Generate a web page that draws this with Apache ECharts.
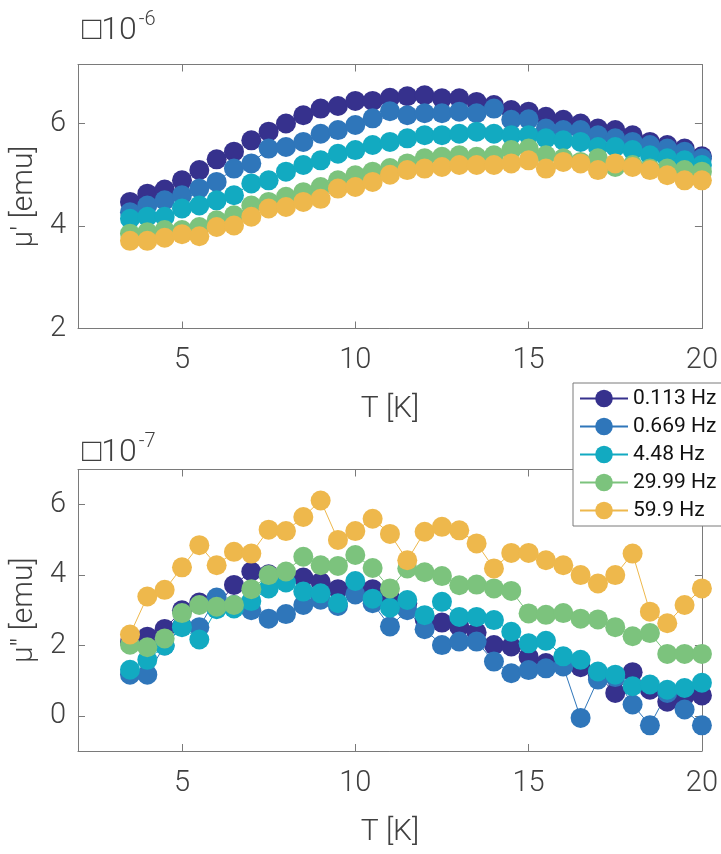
<!DOCTYPE html>
<html>
<head>
<meta charset="utf-8">
<script src="https://cdn.jsdelivr.net/npm/echarts@6/dist/echarts.min.js"></script>
<style>
  html, body { margin: 0; padding: 0; background: #ffffff; }
  #chart { width: 721px; height: 854px; }
</style>
</head>
<body>
<div id="chart"></div>
<script>
// Temperature sweep [K]
const temperatures = [3.5, 4, 4.5, 5, 5.5, 6, 6.5, 7, 7.5, 8, 8.5, 9, 9.5, 10, 10.5, 11, 11.5,
  12, 12.5, 13, 13.5, 14, 14.5, 15, 15.5, 16, 16.5, 17, 17.5, 18, 18.5, 19, 19.5, 20];

// Drive frequencies
const frequencies = ['0.113 Hz', '0.669 Hz', '4.48 Hz', '29.99 Hz', '59.9 Hz'];

// In-phase component mu' (units of 1e-6 emu)
const realF0113 = [4.47, 4.63, 4.71, 4.89, 5.09, 5.30, 5.45, 5.67, 5.84, 6.00, 6.16, 6.29, 6.34, 6.44, 6.44, 6.50, 6.53,
  6.55, 6.49, 6.49, 6.42, 6.36, 6.26, 6.23, 6.13, 6.07, 6.00, 5.90, 5.87, 5.77, 5.64, 5.58, 5.51, 5.36];
const realF0669 = [4.27, 4.40, 4.50, 4.60, 4.73, 4.86, 5.12, 5.22, 5.51, 5.54, 5.64, 5.80, 5.87, 5.97, 6.10, 6.24, 6.16,
  6.20, 6.20, 6.23, 6.20, 6.29, 6.07, 6.08, 5.90, 5.87, 5.87, 5.77, 5.71, 5.64, 5.58, 5.51, 5.45, 5.32];
const realF448 = [4.14, 4.18, 4.18, 4.34, 4.40, 4.50, 4.60, 4.83, 4.89, 5.06, 5.19, 5.28, 5.41, 5.48, 5.58, 5.64, 5.71,
  5.77, 5.77, 5.80, 5.84, 5.80, 5.77, 5.77, 5.71, 5.67, 5.64, 5.54, 5.54, 5.48, 5.38, 5.32, 5.28, 5.19];
const realF2999 = [3.85, 3.88, 3.92, 3.92, 3.98, 4.11, 4.21, 4.40, 4.47, 4.57, 4.66, 4.76, 4.89, 4.99, 5.06, 5.13, 5.22,
  5.32, 5.35, 5.38, 5.35, 5.38, 5.48, 5.51, 5.38, 5.32, 5.25, 5.32, 5.15, 5.19, 5.12, 5.12, 5.09, 5.06];
const realF599 = [3.71, 3.71, 3.77, 3.84, 3.80, 3.98, 4.01, 4.18, 4.34, 4.37, 4.47, 4.53, 4.73, 4.76, 4.86, 5.00, 5.09,
  5.12, 5.15, 5.19, 5.19, 5.19, 5.22, 5.28, 5.12, 5.25, 5.22, 5.09, 5.22, 5.15, 5.09, 4.99, 4.89, 4.89];

// Out-of-phase component mu'' (units of 1e-7 emu)
const imagF0113 = [2.10, 2.25, 2.47, 3.00, 3.22, 3.10, 3.72, 4.10, 4.02, 3.90, 3.93, 3.80, 3.60, 3.70, 3.60, 3.35, 3.20,
  2.75, 2.65, 2.53, 2.37, 2.01, 1.97, 1.68, 1.50, 1.45, 1.38, 1.15, 0.65, 1.24, 0.74, 0.40, 0.56, 0.58];
const imagF0669 = [1.17, 1.17, 2.00, 2.55, 2.52, 3.36, 3.15, 3.00, 2.76, 2.89, 3.15, 3.30, 3.12, 3.45, 3.20, 2.54, 3.00,
  2.46, 2.01, 2.11, 2.11, 1.54, 1.21, 1.30, 1.35, 1.40, -0.06, 1.03, 1.10, 0.32, -0.27, 0.65, 0.18, -0.27];
const imagF448 = [1.31, 1.59, 2.00, 2.52, 2.17, 3.03, 3.05, 3.26, 3.62, 3.79, 3.53, 3.48, 3.20, 3.83, 3.33, 3.07, 3.29,
  2.86, 3.24, 2.81, 2.81, 2.72, 2.39, 2.06, 2.13, 1.69, 1.59, 1.26, 1.17, 0.84, 0.89, 0.74, 0.79, 0.94];
const imagF2999 = [2.02, 1.95, 2.20, 2.92, 3.15, 3.10, 3.15, 3.60, 4.00, 4.10, 4.52, 4.28, 4.26, 4.57, 4.20, 3.62, 4.19,
  4.08, 3.97, 3.71, 3.73, 3.62, 3.55, 2.91, 2.87, 2.92, 2.76, 2.74, 2.52, 2.26, 2.35, 1.76, 1.76, 1.76];
const imagF599 = [2.31, 3.39, 3.58, 4.22, 4.85, 4.28, 4.66, 4.61, 5.29, 5.25, 5.65, 6.12, 5.00, 5.25, 5.60, 5.17, 4.42,
  5.23, 5.37, 5.27, 4.90, 4.19, 4.63, 4.63, 4.42, 4.28, 4.00, 3.76, 4.00, 4.61, 2.96, 2.63, 3.15, 3.62];

// Tick positions
const temperatureTicks = [5, 10, 15, 20];
const realTicks = [2, 4, 6];
const imagTicks = [0, 2, 4, 6];

const realSets = [realF0113, realF0669, realF448, realF2999, realF599];
const imagSets = [imagF0113, imagF0669, imagF448, imagF2999, imagF599];

const palette = ['#36318d', '#2f76ba', '#12aac1', '#7cc37d', '#eeb84c'];
const FONT = "'Liberation Sans Narrow', 'Roboto', sans-serif";
const LINE_GRAY = '#7a7a7a';
const TEXT_GRAY = '#404040';

function xAxes(gridIndex) {
  return [
    {
      gridIndex, type: 'value', min: 2, max: 20, position: 'bottom',
      name: 'T [K]', nameLocation: 'middle', nameGap: 66,
      nameTextStyle: { fontSize: 30, color: TEXT_GRAY, fontFamily: FONT, fontWeight: 300 },
      axisLine: { onZero: false, lineStyle: { color: LINE_GRAY, width: 1 } },
      axisTick: { inside: true, length: 7, customValues: temperatureTicks, lineStyle: { color: LINE_GRAY } },
      axisLabel: { customValues: temperatureTicks, fontSize: 29, color: TEXT_GRAY, fontFamily: FONT, fontWeight: 300, margin: 18 },
      splitLine: { show: false }
    },
    {
      gridIndex, type: 'value', min: 2, max: 20, position: 'top',
      axisLine: { onZero: false, lineStyle: { color: LINE_GRAY, width: 1 } },
      axisTick: { inside: true, length: 7, customValues: temperatureTicks, lineStyle: { color: LINE_GRAY } },
      axisLabel: { show: false },
      splitLine: { show: false }
    }
  ];
}

function yAxes(gridIndex, min, max, ticks, title) {
  return [
    {
      gridIndex, type: 'value', min, max, position: 'left',
      name: title, nameLocation: 'middle', nameGap: 17,
      nameTextStyle: { fontSize: 30, color: TEXT_GRAY, fontFamily: FONT, fontWeight: 300 },
      axisLine: { show: true, onZero: false, lineStyle: { color: LINE_GRAY, width: 1 } },
      axisTick: { show: true, inside: true, length: 7, customValues: ticks, lineStyle: { color: LINE_GRAY } },
      axisLabel: { customValues: ticks, fontSize: 29, color: TEXT_GRAY, fontFamily: FONT, fontWeight: 300, margin: 12 },
      splitLine: { show: false }
    },
    {
      gridIndex, type: 'value', min, max, position: 'right',
      axisLine: { show: true, onZero: false, lineStyle: { color: LINE_GRAY, width: 1 } },
      axisTick: { show: true, inside: true, length: 7, customValues: ticks, lineStyle: { color: LINE_GRAY } },
      axisLabel: { show: false },
      splitLine: { show: false }
    }
  ];
}

function makeSeries(sets, axisIndex) {
  return sets.map((values, k) => ({
    type: 'line',
    name: frequencies[k],
    xAxisIndex: axisIndex,
    yAxisIndex: axisIndex,
    data: temperatures.map((t, i) => [t, values[i]]),
    symbol: 'circle',
    symbolSize: 20,
    showAllSymbol: true,
    itemStyle: { color: palette[k] },
    lineStyle: { color: palette[k], width: 1 },
    emphasis: { disabled: true },
    clip: false
  }));
}

const chart = echarts.init(document.getElementById('chart'), null, { renderer: 'canvas' });

const exponentRich = {
  s: { fontSize: 20, fontFamily: FONT, fontWeight: 300, fill: TEXT_GRAY, verticalAlign: 'top', padding: [0, 0, 21, 2] }
};

chart.setOption({
  animation: false,
  backgroundColor: '#ffffff',
  textStyle: { fontFamily: FONT },
  grid: [
    { left: 78, top: 64.5, width: 624, height: 264 },
    { left: 78, top: 469.5, width: 624, height: 281.5 }
  ],
  xAxis: [...xAxes(0), ...xAxes(1)],
  yAxis: [
    ...yAxes(0, 2, 7.15, realTicks, "\u03bc' [emu]"),
    ...yAxes(1, -1, 7, imagTicks, "\u03bc'' [emu]")
  ],
  legend: {
    orient: 'vertical',
    left: 573,
    top: 383,
    itemWidth: 48,
    itemHeight: 22,
    itemGap: 7,
    padding: [5, 60, 5, 6],
    backgroundColor: '#ffffff',
    borderColor: LINE_GRAY,
    borderWidth: 1,
    textStyle: { fontSize: 21, color: '#111111', fontFamily: FONT, fontWeight: 400 },
    data: frequencies,
    selectedMode: false
  },
  graphic: [
    {
      type: 'text', left: 82, top: 10,
      style: {
        text: '\u25a110{s|-6}',
        font: "300 32px " + FONT,
        fill: TEXT_GRAY,
        rich: exponentRich
      }
    },
    {
      type: 'text', left: 82, top: 432,
      style: {
        text: '\u25a110{s|-7}',
        font: "300 32px " + FONT,
        fill: TEXT_GRAY,
        rich: exponentRich
      }
    }
  ],
  series: [...makeSeries(realSets, 0), ...makeSeries(imagSets, 2)]
});
</script>
</body>
</html>
